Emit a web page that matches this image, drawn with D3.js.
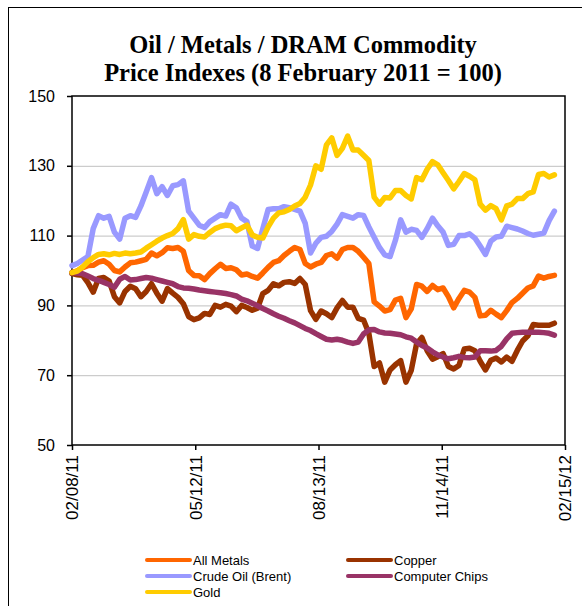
<!DOCTYPE html>
<html>
<head>
<meta charset="utf-8">
<script src="https://cdn.jsdelivr.net/npm/d3@7"></script>
<style>
  html, body { margin: 0; padding: 0; background: #fff; }
  svg { display: block; }
</style>
</head>
<body>
<svg id="chart" width="582" height="606"></svg>
<script>
// index values on a 4-day grid starting 8 Feb 2011
const startDate = new Date(2011, 1, 8)
const endDate = new Date(2012, 1, 9)
const stepDays = 4

const allMetals = [
  99.4, 99.9, 100.8, 101.4, 101.5, 102.4, 102.8, 101.8, 100, 99.6,
  101, 102.2, 102.4, 102.8, 103.2, 105, 104.2, 105.1, 106.5, 106.3,
  106.6, 105.5, 100, 98.6, 98.5, 97.4, 99.1, 100.5, 101.8, 100.6,
  100.8, 100.2, 98.7, 99, 98.3, 97.8, 99.3, 100.9, 102.3, 102.8,
  104.3, 105.5, 106.6, 106, 102, 101, 101.8, 102.3, 104.3, 104.8,
  103.5, 106, 106.6, 106.6, 105.5, 103.8, 102, 91, 89.8, 88.4,
  88.8, 91.5, 92, 86.5, 89, 96, 95.5, 94, 95.7, 94.5,
  95, 92.5, 89.3, 92, 94.3, 93.8, 92.3, 87, 87.2, 88.6,
  87.5, 86.5, 88.5, 90.8, 92, 93.5, 95, 95.6, 98.4, 97.8,
  98.3, 98.6
]

const copper = [
  99.1, 98.8, 98.6, 96.5, 93.8, 97.7, 98, 97, 92.5, 90.7,
  94, 95.5, 94.8, 92.5, 94, 96.2, 93.5, 91.2, 94.8, 93.5,
  92.3, 90.5, 86.8, 85.9, 86.4, 87.7, 87.4, 90, 89.5, 90.3,
  89.8, 88.2, 90, 89.4, 88.6, 89.2, 93.4, 94.3, 96.2, 95.6,
  96.6, 96.8, 96.3, 97.7, 96, 88.5, 86, 88.4, 87.6, 86.5,
  89.3, 91.4, 89.5, 89.5, 86.3, 85.8, 82, 72.5, 73.5, 68,
  71.5, 73, 74.2, 68, 71.4, 79, 80.8, 77, 74.6, 75.3,
  76.2, 72.5, 71.8, 72.8, 77.5, 77.7, 77, 74, 71.5, 74.3,
  74.9, 73.8, 75.2, 74, 77.1, 79.8, 81.3, 84.5, 84.3, 84.3,
  84.3, 84.9
]

const crudeOil = [
  101.4, 102, 103, 104, 112, 115.7, 115, 115.5, 111, 109,
  115, 115.7, 115.2, 118.5, 122.5, 126.6, 122, 124, 121.5, 124.3,
  124.6, 125.7, 117, 115, 113, 112.3, 114, 115, 116, 115.6,
  119, 118, 115, 114, 107, 106.3, 112, 117.5, 117.7, 117.7,
  118.3, 118, 117.5, 117, 113.5, 105, 107.8, 109.5, 109.8, 111.2,
  113.3, 116, 115.5, 115, 116, 115.8, 112.5, 109.5, 106.6, 104.5,
  104, 108.6, 114.5, 111, 111.8, 111.5, 109.5, 112, 115, 112.8,
  111, 107.2, 107.5, 110, 110, 110.5, 109.3, 107, 104.6, 108.4,
  109.6, 109.8, 112.7, 112.3, 111.9, 111.3, 110.6, 110.1, 110.4, 110.7,
  114.3, 117
]

const computerChips = [
  99.4, 99.3, 99.1, 98.4, 97.7, 97.2, 96.6, 96, 95.2, 97.5,
  98.3, 97.3, 97.4, 97.7, 98, 97.8, 97.4, 97, 96.6, 96.2,
  95.4, 95, 94.9, 94.7, 94.4, 94.2, 94, 93.8, 93.6, 93.4,
  93.1, 92.7, 91.8, 91.3, 90.6, 89.9, 89.1, 88.4, 87.6, 86.9,
  86.3, 85.6, 85, 84.2, 83.4, 82.8, 81.9, 81.1, 80.3, 80.1,
  80.3, 80, 79.5, 79.1, 79.5, 81.8, 83, 83.1, 82.4, 82.1,
  82, 81.8, 81.6, 81, 80.6, 79.5, 78.5, 77.8, 76.7, 75.8,
  75.2, 74.7, 75, 75.4, 75.1, 75, 75.2, 77, 77, 76.9,
  77.1, 78.3, 80.4, 82, 82.2, 82.3, 82.3, 82.3, 82.3, 82.2,
  82, 81.5
]

const gold = [
  99.4, 99.8, 101, 102.5, 103.7, 104.6, 104.8, 104.5, 104.9, 104.6,
  105, 104.8, 105, 105.3, 106.4, 107.4, 108.4, 109.3, 110, 110.6,
  112, 114.6, 109, 110.3, 109.8, 109.6, 110.9, 112, 112.6, 113,
  112.8, 111.4, 112.2, 113, 110.2, 109.5, 109.3, 112.5, 115, 116.5,
  116.8, 117.5, 118.5, 119.2, 121, 124.5, 130, 129, 136, 138,
  133, 135, 138.5, 134.5, 134.5, 133, 131.5, 121, 119, 120.9,
  120.8, 122.9, 122.9, 121.5, 120.5, 126.6, 126, 129, 131.2, 130.3,
  128, 125.8, 123.4, 125.5, 127.8, 127, 126, 119, 117.3, 118.6,
  117.7, 114.5, 118.5, 119, 120.6, 120.6, 122, 122.5, 127.5, 127.8,
  126.8, 127.4
]

const seriesNames = ['All Metals', 'Copper', 'Crude Oil (Brent)', 'Computer Chips', 'Gold']
const seriesValues = [allMetals, copper, crudeOil, computerChips, gold]
const seriesColors = ['#ff6600', '#993300', '#9999ff', '#993366', '#ffcc00']

const yTicks = [50, 70, 90, 110, 130, 150]
const xTickLabels = ['02/08/11', '05/12/11', '08/13/11', '11/14/11', '02/15/12']
const titleLines = ['Oil / Metals / DRAM Commodity', 'Price Indexes (8 February 2011 = 100)']

const dates = d3.timeDay.range(startDate, endDate, stepDays)
const parseTick = d3.timeParse('%m/%d/%y')
const tickDates = xTickLabels.map(parseTick)

const svg = d3.select('#chart')
const plot = { left: 72, right: 565, top: 96, bottom: 445 }

const x = d3.scaleTime()
  .domain([tickDates[0], tickDates[tickDates.length - 1]])
  .range([plot.left, plot.right])

const y = d3.scaleLinear()
  .domain([50, 150])
  .range([plot.bottom, plot.top])

// outer chart frame (runs off the right and bottom of the picture)
svg.append('rect')
  .attr('x', 8.5)
  .attr('y', 7.5)
  .attr('width', 620)
  .attr('height', 640)
  .attr('fill', 'none')
  .attr('stroke', '#000')
  .attr('stroke-width', 1)

svg.selectAll('text.title')
  .data(titleLines)
  .join('text')
  .attr('class', 'title')
  .attr('x', 303)
  .attr('y', (_, i) => 53 + i * 28)
  .attr('text-anchor', 'middle')
  .attr('font-family', 'Liberation Serif, Times New Roman, serif')
  .attr('font-weight', 'bold')
  .attr('font-size', 24.5)
  .attr('fill', '#000')
  .text((d) => d)

svg.append('g')
  .selectAll('line')
  .data(yTicks.slice(1, -1))
  .join('line')
  .attr('x1', plot.left)
  .attr('x2', plot.right)
  .attr('y1', (d) => y(d) + 0.5)
  .attr('y2', (d) => y(d) + 0.5)
  .attr('stroke', '#c0c0c0')
  .attr('stroke-width', 1)

const yAxis = svg.append('g')
  .attr('transform', `translate(${plot.left},0)`)
  .call(d3.axisLeft(y).tickValues(yTicks).tickSize(5).tickPadding(12))
yAxis.select('.domain').remove()
yAxis.selectAll('line').attr('stroke', '#000').attr('stroke-width', 1.5)
yAxis.selectAll('text')
  .attr('font-family', 'Liberation Sans, Arial, sans-serif')
  .attr('font-size', 16)
  .attr('fill', '#000')

const xAxis = svg.append('g')
  .attr('transform', `translate(0,${plot.bottom})`)
  .call(d3.axisBottom(x).tickValues(tickDates).tickFormat(d3.timeFormat('%m/%d/%y')).tickSize(5))
xAxis.select('.domain').remove()
xAxis.selectAll('line').attr('stroke', '#000').attr('stroke-width', 1.5)
xAxis.selectAll('text')
  .attr('font-family', 'Liberation Sans, Arial, sans-serif')
  .attr('font-size', 17)
  .attr('fill', '#000')
  .attr('text-anchor', 'end')
  .attr('dy', '0.35em')
  .attr('transform', 'translate(0,10) rotate(-90)')
  .attr('x', 0)
  .attr('y', 0)

svg.append('rect')
  .attr('x', plot.left)
  .attr('y', plot.top)
  .attr('width', plot.right - plot.left)
  .attr('height', plot.bottom - plot.top)
  .attr('fill', 'none')
  .attr('stroke', '#000')
  .attr('stroke-width', 1.5)

const line = d3.line()
  .x((d) => x(d.date))
  .y((d) => y(d.value))

svg.append('g')
  .selectAll('path')
  .data(seriesValues.map((vals, i) => ({ color: seriesColors[i], points: vals.map((v, j) => ({ date: dates[j], value: v })) })))
  .join('path')
  .attr('d', (d) => line(d.points))
  .attr('fill', 'none')
  .attr('stroke', (d) => d.color)
  .attr('stroke-width', 5.5)
  .attr('stroke-linejoin', 'round')
  .attr('stroke-linecap', 'round')

const legendCols = [147, 348]
const legend = svg.append('g')
  .selectAll('g')
  .data(seriesNames)
  .join('g')
  .attr('transform', (_, i) => `translate(${legendCols[i % 2]}, ${560 + Math.floor(i / 2) * 16})`)

legend.append('line')
  .attr('x1', 0)
  .attr('x2', 43)
  .attr('stroke', (_, i) => seriesColors[i])
  .attr('stroke-width', 4)
  .attr('stroke-linecap', 'round')

legend.append('text')
  .attr('x', 46)
  .attr('dy', '0.35em')
  .attr('font-family', 'Liberation Sans, Arial, sans-serif')
  .attr('font-size', 13)
  .attr('fill', '#000')
  .text((d) => d)
</script>
</body>
</html>
